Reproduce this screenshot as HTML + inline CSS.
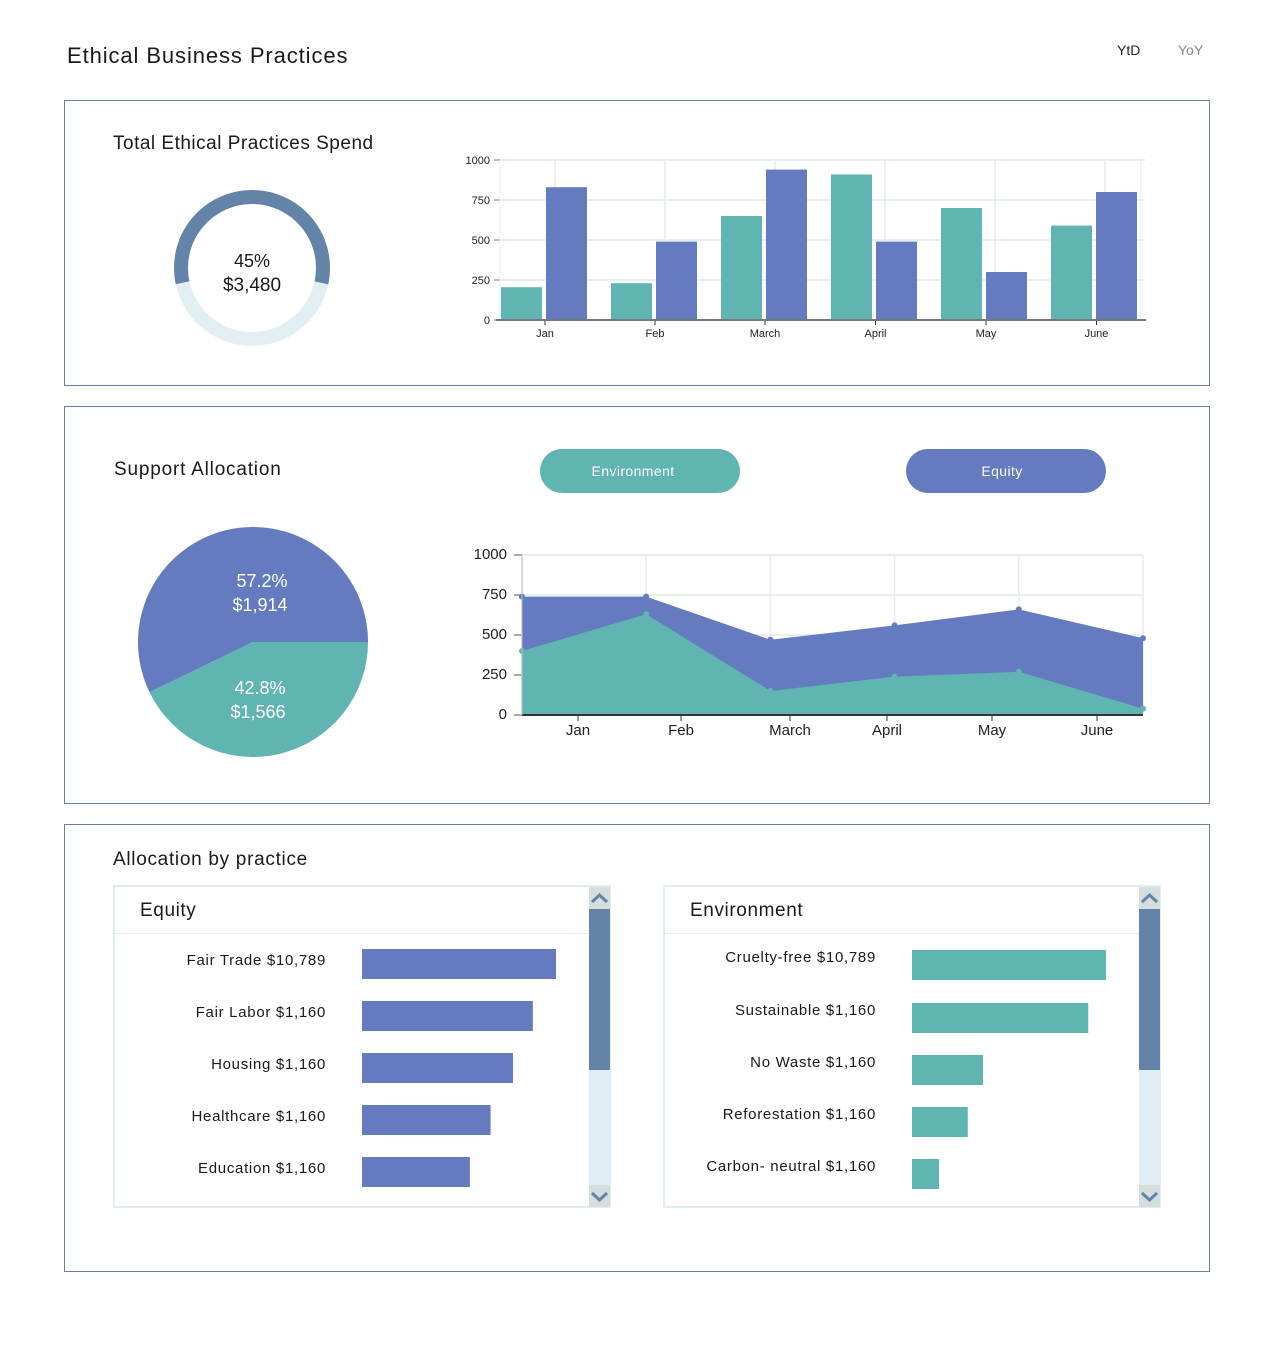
<!DOCTYPE html>
<html><head><meta charset="utf-8"><style>
body{margin:0;background:#fff;width:1269px;height:1344px;overflow:hidden;font-family:"Liberation Sans",sans-serif}
svg text{font-family:"Liberation Sans",sans-serif}
</style></head><body>
<svg id="s" width="1269" height="1344" viewBox="0 0 1269 1344" xmlns="http://www.w3.org/2000/svg">
<text x="67" y="63" font-size="22" letter-spacing="0.9" fill="#1a1a1a">Ethical Business Practices</text>
<text x="1117" y="55" font-size="14" fill="#222">YtD</text>
<text x="1178" y="55" font-size="14" fill="#888">YoY</text>

<rect x="64.5" y="100.5" width="1145" height="285" fill="none" stroke="#6383a8"/>
<rect x="64.5" y="406.5" width="1145" height="397" fill="none" stroke="#6383a8"/>
<rect x="64.5" y="824.5" width="1145" height="447" fill="none" stroke="#6383a8"/>

<text x="113" y="149" font-size="19" letter-spacing="0.5" fill="#1a1a1a">Total Ethical Practices Spend</text>
<text x="114" y="475" font-size="19" letter-spacing="0.8" fill="#1a1a1a">Support Allocation</text>
<text x="113" y="865" font-size="19" letter-spacing="0.7" fill="#1a1a1a">Allocation by practice</text>

<g id="donut"></g>
<text x="252" y="267" font-size="18" text-anchor="middle" fill="#1a1a1a">45%</text>
<text x="252" y="291" font-size="19" text-anchor="middle" fill="#1a1a1a">$3,480</text>

<g id="bars"></g>

<rect x="540" y="449" width="200" height="44" rx="22" fill="#60b4b2"/>
<text x="633" y="476" font-size="14" letter-spacing="0.4" text-anchor="middle" fill="#fff">Environment</text>
<rect x="906" y="449" width="200" height="44" rx="22" fill="#647bbf"/>
<text x="1002" y="476" font-size="14" letter-spacing="0.4" text-anchor="middle" fill="#fff">Equity</text>

<g id="pie"></g>
<g id="area"></g>
<g id="lists"></g>
</svg>
<script>
const NS="http://www.w3.org/2000/svg";
function mk(parent,tag,attrs,txt){const e=document.createElementNS(NS,tag);for(const k in attrs)e.setAttribute(k,attrs[k]);if(txt!==undefined)e.textContent=txt;parent.appendChild(e);return e;}
const TEAL="#60b4b2",BLUE="#647bbf";

// ---- donut ----
const donutShare=0.567;
const donutStartDeg=168;
{
 const g=document.getElementById('donut');const cx=252,cy=268,r=71;
 const c=mk(g,'circle',{cx:cx,cy:cy,r:r,fill:'none',stroke:'#e1eff3','stroke-width':14});
 
 const a0=donutStartDeg*Math.PI/180,a1=(donutStartDeg+donutShare*360)*Math.PI/180;
 const large=donutShare>0.5?1:0;
 const p=mk(g,'path',{d:`M${cx+r*Math.cos(a0)} ${cy+r*Math.sin(a0)} A${r} ${r} 0 ${large} 1 ${cx+r*Math.cos(a1)} ${cy+r*Math.sin(a1)}`,fill:'none',stroke:'#6383a8','stroke-width':14});
 
}

// ---- bar chart ----
const barMonths=["Jan","Feb","March","April","May","June"];
const barEnv=[205,230,650,910,700,590];
const barEq=[830,490,940,490,300,800];
const barTicks=[0,250,500,750,1000];
{
 const g=document.getElementById('bars');
 const x0=500,x1=1141,yb=320,yt=160;
 const y=v=>yb-(v/1000)*(yb-yt);
 const gw=110;
 barTicks.forEach(t=>{
  const l=mk(g,'line',{x1:x0,x2:x1+4,y1:y(t),y2:y(t),stroke:t?'#e6eeee':'#777','stroke-width':2});
  
  const tl=mk(g,'line',{x1:x0-6,x2:x0,y1:y(t),y2:y(t),stroke:'#777'});
  
  const tx=mk(g,'text',{x:x0-10,y:y(t)+4,'font-size':11,'text-anchor':'end',fill:'#222'},String(t));
  
 });
 barMonths.forEach((m,i)=>{
  const gx=x0+i*gw+55;
  const vl=mk(g,'line',{x1:gx,x2:gx,y1:yt,y2:yb,stroke:'#e6eeee','stroke-width':1.5});
  
 });
 mk(g,'line',{x1:x0,x2:x0,y1:yt,y2:yb,stroke:'#e6eeee'});
 mk(g,'line',{x1:x1,x2:x1,y1:yt,y2:yb,stroke:'#e6eeee'});
 barMonths.forEach((m,i)=>{
  const gx=x0+i*gw;
  const b1=mk(g,'rect',{x:gx+1,y:y(barEnv[i]),width:41,height:yb-y(barEnv[i]),fill:TEAL});
  
  const b2=mk(g,'rect',{x:gx+46,y:y(barEq[i]),width:41,height:yb-y(barEq[i]),fill:BLUE});
  
  const cxl=gx+45+(i>2?(i-2)*0.5:0);
  const tk=mk(g,'line',{x1:cxl,x2:cxl,y1:yb,y2:yb+5,stroke:'#333'});
  
  const tx=mk(g,'text',{x:cxl,y:yb+17,'font-size':11,'text-anchor':'middle',fill:'#222'},m);
  
 });
 const ax=mk(g,'line',{x1:x0-4,x2:x1+5,y1:yb,y2:yb,stroke:'#777','stroke-width':2});
 
}

// ---- pie ----
const pieShares=[57.2,42.8];
const pieLabels=[["57.2%","$1,914"],["42.8%","$1,566"]];
{
 const g=document.getElementById('pie');const cx=253,cy=642,r=115;
 const cols=[BLUE,TEAL];
 const sweeps=[pieShares[0]/100*360,pieShares[1]/100*360];
 const starts=[sweeps[1],0];
 [0,1].forEach(i=>{
  const a0=starts[i]*Math.PI/180,a1=(starts[i]+sweeps[i])*Math.PI/180;
  const p=mk(g,'path',{d:`M${cx} ${cy} L${cx+r*Math.cos(a0)} ${cy+r*Math.sin(a0)} A${r} ${r} 0 ${sweeps[i]>180?1:0} 1 ${cx+r*Math.cos(a1)} ${cy+r*Math.sin(a1)} Z`,fill:cols[i]});
  
 });
 const lp=[[262,587],[260,694]];
 pieLabels.forEach((l,i)=>{
  const t1=mk(g,'text',{x:lp[i][0],y:lp[i][1],'font-size':18,'text-anchor':'middle',fill:'#fff'},l[0]);
  
  const t2=mk(g,'text',{x:lp[i][0]-2,y:lp[i][1]+24,'font-size':18,'text-anchor':'middle',fill:'#fff'},l[1]);
  
 });
}

// ---- area chart ----
const areaMonths=["Jan","Feb","March","April","May","June"];
const areaTotal=[740,740,470,560,660,480];
const areaEnv=[400,630,150,240,270,40];
const areaTicks=[0,250,500,750,1000];
{
 const g=document.getElementById('area');
 const x0=522,x1=1143,yb=715,yt=555;
 const y=v=>yb-(v/1000)*(yb-yt);
 const x=i=>x0+i*(x1-x0)/(areaTotal.length-1);
 areaTicks.forEach(t=>{
  if(t){const l=mk(g,'line',{x1:x0,x2:x1,y1:y(t),y2:y(t),stroke:'#e6eeee','stroke-width':2});
  }
  const tl=mk(g,'line',{x1:x0-8,x2:x0,y1:y(t),y2:y(t),stroke:'#555'});
  
  const tx=mk(g,'text',{x:x0-15,y:y(t)+4,'font-size':15,'text-anchor':'end',fill:'#222'},String(t));
  
 });
 areaTotal.forEach((v,i)=>{const l=mk(g,'line',{x1:x(i),x2:x(i),y1:yt,y2:yb,stroke:'#e6eeee','stroke-width':1.5});
  });
 const line=(arr)=>arr.map((v,i)=>`${x(i)} ${y(v)}`).join(' L');
 const pa=mk(g,'path',{d:`M${x(0)} ${yb} L${line(areaTotal)} L${x(areaTotal.length-1)} ${yb} Z`,fill:BLUE});
 
 const pb=mk(g,'path',{d:`M${x(0)} ${yb} L${line(areaEnv)} L${x(areaEnv.length-1)} ${yb} Z`,fill:TEAL});
 
 areaTotal.forEach((v,i)=>{const c=mk(g,'circle',{cx:x(i),cy:y(v),r:3,fill:BLUE});
  });
 areaEnv.forEach((v,i)=>{const c=mk(g,'circle',{cx:x(i),cy:y(v),r:3,fill:TEAL});
  });
 const ax=mk(g,'line',{x1:x0,x2:x1,y1:yb,y2:yb,stroke:'#333','stroke-width':2});
 
 const ay=mk(g,'line',{x1:x0,x2:x0,y1:yt,y2:yb,stroke:'#bbb'});
 
 const lx=[578,681,790,887,992,1097];
 areaMonths.forEach((m,i)=>{
  const tk=mk(g,'line',{x1:lx[i],x2:lx[i],y1:yb,y2:yb+6,stroke:'#333'});
  
  const tx=mk(g,'text',{x:lx[i],y:yb+20,'font-size':15,'text-anchor':'middle',fill:'#222'},m);
  
 });
}

// ---- lists ----
const eqLabels=["Fair Trade $10,789","Fair Labor $1,160","Housing $1,160","Healthcare $1,160","Education $1,160"];
const eqValues=[10789,9500,8400,7150,6000];
const envLabels=["Cruelty-free $10,789","Sustainable $1,160","No Waste $1,160","Reforestation $1,160","Carbon- neutral $1,160"];
const envValues=[10789,9800,3950,3100,1500];
{
 const g=document.getElementById('lists');
 function list(bx,title,labels,values,color,rowY,name){
  const gg=mk(g,'g',{});
  
  const r=mk(gg,'rect',{x:bx+1,y:886,width:496,height:321,fill:'#fff',stroke:'#dfeef0','stroke-width':2});
  
  const t=mk(gg,'text',{x:bx+27,y:916,'font-size':19,'letter-spacing':0.6,fill:'#1a1a1a'},title);
  
  const d=mk(gg,'line',{x1:bx+1,x2:bx+476,y1:933.5,y2:933.5,stroke:'#e3eef0'});
  
  const bar0=bx+249,maxW=194;
  labels.forEach((l,i)=>{
   const cy=rowY[i];
   const tx=mk(gg,'text',{x:bx+213,y:cy+(name==='environment-list'?-3:1),'font-size':15,'letter-spacing':0.7,'text-anchor':'end',fill:'#1a1a1a'},l);
   
   const w=values[i]/10789*maxW;
   const b=mk(gg,'rect',{x:bar0,y:cy-15,width:w,height:30,fill:color});
   
  });
  const sx=bx+476;
  const tr=mk(gg,'rect',{x:sx,y:887,width:21,height:320,fill:'#e0edf2'});
  
  const th=mk(gg,'rect',{x:sx,y:909,width:21,height:161,fill:'#6383a8'});
  
  const up=mk(gg,'rect',{x:sx,y:887,width:21,height:22,fill:'#d5dedf'});
  
  mk(gg,'path',{d:`M${sx+3} ${902} L${sx+10.5} ${895} L${sx+18} ${902}`,fill:'none',stroke:'#6383a8','stroke-width':3});
  const dn=mk(gg,'rect',{x:sx,y:1185,width:21,height:22,fill:'#d5dedf'});
  
  mk(gg,'path',{d:`M${sx+3} ${1193} L${sx+10.5} ${1200} L${sx+18} ${1193}`,fill:'none',stroke:'#6383a8','stroke-width':3});
 }
 list(113,"Equity",eqLabels,eqValues,BLUE,[964,1016,1068,1120,1172],'equity-list');
 list(663,"Environment",envLabels,envValues,TEAL,[965,1018,1070,1122,1174],'environment-list');
}
</script>
</body></html>
